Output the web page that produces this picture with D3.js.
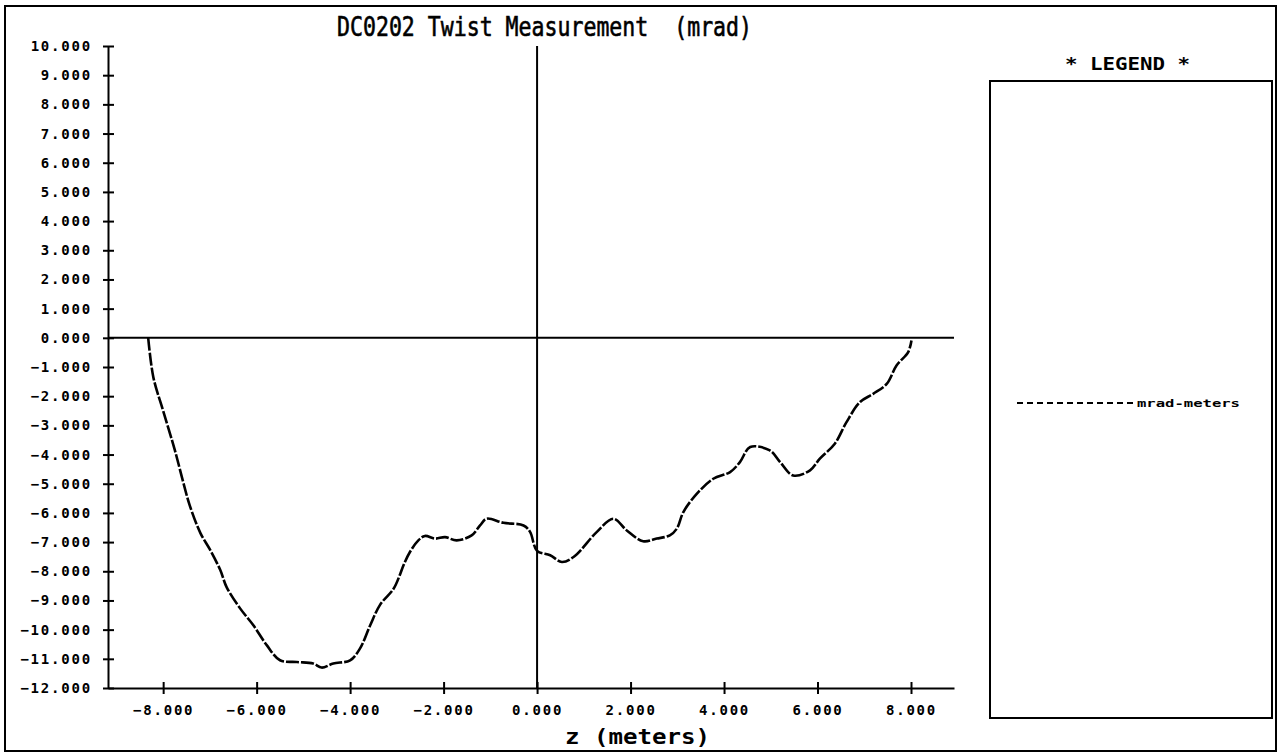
<!DOCTYPE html>
<html>
<head>
<meta charset="utf-8">
<script src="https://cdn.jsdelivr.net/npm/d3@7"></script>
<style>
  html, body { margin: 0; padding: 0; background: #fff; }
  svg { display: block; }
  text { font-family: "DejaVu Sans Mono", "Liberation Mono", monospace; fill: #000; white-space: pre; }
</style>
</head>
<body>
<svg id="chart" width="1285" height="754"></svg>
<script>
// Twist measurement along the magnet, z in meters, twist in mrad
const zMeters = [
  -8.32, -8.21, -8.00, -7.75, -7.57, -7.43, -7.20, -7.00, -6.78, -6.64,
  -6.35, -6.07, -5.78, -5.50, -5.14, -4.79, -4.61, -4.36, -4.00, -3.79,
  -3.57, -3.36, -3.07, -2.93, -2.86, -2.72, -2.54, -2.40, -2.18, -1.97,
  -1.72, -1.40, -1.22, -1.08, -0.72, -0.29, -0.15, 0.00, 0.28, 0.53,
  0.78, 1.28, 1.63, 1.92, 2.27, 2.56, 2.84, 2.99, 3.13, 3.42,
  3.77, 4.13, 4.34, 4.56, 4.98, 5.20, 5.48, 5.84, 6.05, 6.37,
  6.62, 6.91, 7.19, 7.48, 7.69, 7.94, 8.01
];
const twistMrad = [
  0.00, -1.35, -2.50, -3.85, -4.95, -5.75, -6.70, -7.25, -7.95, -8.55,
  -9.28, -9.85, -10.54, -11.05, -11.11, -11.16, -11.30, -11.16, -11.05, -10.65,
  -9.85, -9.15, -8.60, -8.10, -7.80, -7.34, -6.94, -6.79, -6.88, -6.83,
  -6.94, -6.77, -6.43, -6.20, -6.34, -6.43, -6.65, -7.30, -7.45, -7.68,
  -7.51, -6.65, -6.20, -6.60, -6.97, -6.88, -6.77, -6.54, -5.97, -5.34,
  -4.83, -4.60, -4.26, -3.74, -3.86, -4.26, -4.72, -4.54, -4.14, -3.63,
  -2.89, -2.20, -1.92, -1.58, -0.95, -0.49, -0.09
];
const xTicks = [-8, -6, -4, -2, 0, 2, 4, 6, 8];
const yTicks = [10, 9, 8, 7, 6, 5, 4, 3, 2, 1, 0, -1, -2, -3, -4, -5, -6, -7, -8, -9, -10, -11, -12];
const seriesName = "mrad-meters";
const chartTitle = "DC0202 Twist Measurement  (mrad)";
const xTitle = "z (meters)";
const legendTitle = "* LEGEND *";

const svg = d3.select("#chart");
const fmt = d3.format(".3f");

const x = d3.scaleLinear().domain([-9.18, 8.92]).range([108, 954]);
const y = d3.scaleLinear().domain([-12, 10]).range([688, 46]);

// outer frame
svg.append("rect")
  .attr("x", 5).attr("y", 6).attr("width", 1271).attr("height", 745)
  .attr("fill", "none").attr("stroke", "#000").attr("stroke-width", 2);

// title
svg.append("text")
  .attr("x", 337).attr("y", 36)
  .attr("font-size", 26)
  .attr("stroke", "#000").attr("stroke-width", 0.6)
  .attr("textLength", 415).attr("lengthAdjust", "spacingAndGlyphs")
  .text(chartTitle);

// shared look for the tick labels
function styleTickText(sel) {
  sel.attr("font-family", "DejaVu Sans Mono, monospace")
    .attr("font-size", 14).attr("font-weight", "bold")
    .attr("letter-spacing", 1.8).attr("fill", "#000");
}

// y axis with labels on the left
const yAxis = d3.axisLeft(y).tickValues(yTicks).tickFormat(fmt).tickSize(0).tickPadding(16);
const gy = svg.append("g").attr("transform", `translate(${x.range()[0]},0)`).call(yAxis);
gy.select(".domain").attr("stroke", "#000").attr("stroke-width", 2);
gy.selectAll(".tick text").call(styleTickText);
gy.selectAll(".tick").append("line")
  .attr("x1", -5).attr("x2", 6).attr("stroke", "#000").attr("stroke-width", 2);

// x axis with labels below
const xAxis = d3.axisBottom(x).tickValues(xTicks).tickFormat(fmt).tickSize(0).tickPadding(17);
const gx = svg.append("g").attr("transform", `translate(0,${y.range()[0]})`).call(xAxis);
gx.select(".domain").attr("stroke", "#000").attr("stroke-width", 2);
gx.selectAll(".tick text").call(styleTickText);
gx.selectAll(".tick").append("line")
  .attr("y1", -6).attr("y2", 6).attr("stroke", "#000").attr("stroke-width", 2);

// zero reference lines
svg.append("line")
  .attr("x1", x.range()[0]).attr("x2", x.range()[1])
  .attr("y1", y(0)).attr("y2", y(0))
  .attr("stroke", "#000").attr("stroke-width", 2);
svg.append("line")
  .attr("x1", x(0)).attr("x2", x(0))
  .attr("y1", y(10)).attr("y2", y(-12))
  .attr("stroke", "#000").attr("stroke-width", 2);

// x axis title
svg.append("text")
  .attr("x", 565).attr("y", 744)
  .attr("font-size", 22).attr("font-weight", "bold")
  .attr("textLength", 145).attr("lengthAdjust", "spacingAndGlyphs")
  .text(xTitle);

// measured curve
const pts = zMeters.map((z, i) => [z, twistMrad[i]]);
const line = d3.line().x(d => x(d[0])).y(d => y(d[1])).curve(d3.curveCatmullRom.alpha(0.5));
svg.append("path")
  .datum(pts)
  .attr("d", line)
  .attr("fill", "none").attr("stroke", "#000")
  .attr("stroke-width", 2.6)
  .attr("stroke-dasharray", "13,2")
  .attr("stroke-linejoin", "round");

// legend
svg.append("text")
  .attr("x", 1065).attr("y", 70)
  .attr("font-size", 17).attr("font-weight", "bold")
  .attr("textLength", 125).attr("lengthAdjust", "spacingAndGlyphs")
  .text(legendTitle);
svg.append("rect")
  .attr("x", 990).attr("y", 81).attr("width", 282).attr("height", 637)
  .attr("fill", "none").attr("stroke", "#000").attr("stroke-width", 2);
svg.append("line")
  .attr("x1", 1017).attr("x2", 1133).attr("y1", 403).attr("y2", 403)
  .attr("stroke", "#000").attr("stroke-width", 2)
  .attr("stroke-dasharray", "6,4");
svg.append("text")
  .attr("x", 1137).attr("y", 407)
  .attr("font-size", 11).attr("font-weight", "bold")
  .attr("textLength", 103).attr("lengthAdjust", "spacingAndGlyphs")
  .text(seriesName);
</script>
</body>
</html>
